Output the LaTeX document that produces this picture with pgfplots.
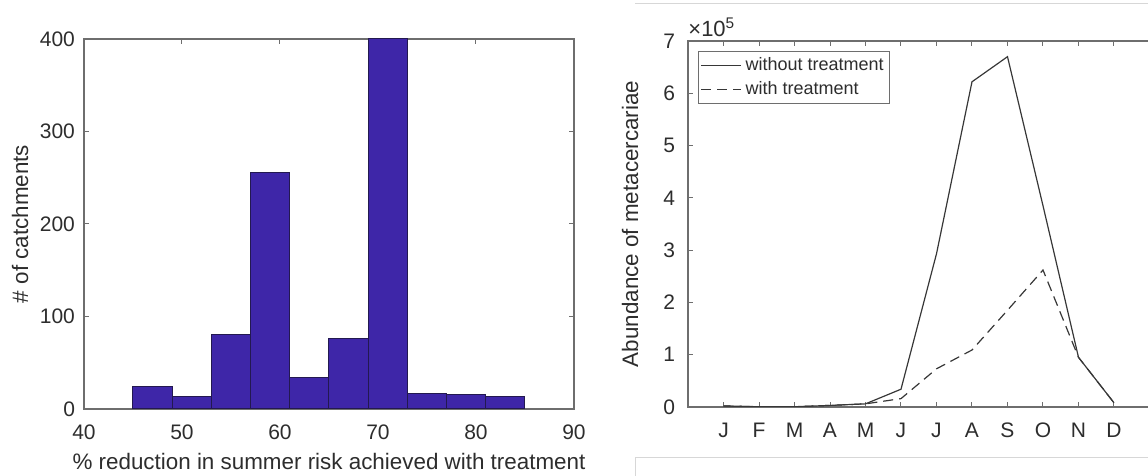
\documentclass[border=0pt]{standalone}
\usepackage{fontspec}
\setmainfont{Liberation Sans}
\usepackage{pgfplots}
\pgfplotsset{compat=1.18}

\definecolor{histfill}{RGB}{62,38,168}
\definecolor{histedge}{RGB}{35,25,80}
\definecolor{axgray}{RGB}{110,110,110}
\definecolor{txtgray}{RGB}{45,45,45}
\definecolor{linegray}{RGB}{55,55,55}
\definecolor{framegray}{RGB}{215,215,215}

\pgfplotsset{
  matlabstyle/.style={
    scale only axis,
    axis line style={axgray, line width=0.6pt},
    tick style={axgray, line width=0.5pt},
    major tick length=2.5pt,
    tick align=inside,
    tick label style={font=\fontsize{10.5}{12}\selectfont, text=txtgray},
    label style={font=\fontsize{11.2}{13}\selectfont, text=txtgray},
    /pgf/number format/assume math mode=true,
    xticklabel style={yshift=-4.5pt},
  }
}

\begin{document}
\begin{tikzpicture}
\useasboundingbox (0,0) rectangle (574pt,238pt);
% screenshot frame lines around the right panel
\draw[framegray, line width=0.5pt] (317.5pt,236pt) -- (574pt,236pt);
\draw[framegray, line width=0.5pt] (317.5pt,0pt) -- (317.5pt,9pt) -- (574pt,9pt);

% left: histogram
\begin{axis}[matlabstyle,
  at={(42pt,33.5pt)}, anchor=south west,
  width=245pt, height=185pt,
  xmin=40, xmax=90, ymin=0, ymax=400,
  xtick={40,50,...,90}, ytick={0,100,...,400},
  xlabel={\% reduction in summer risk achieved with treatment},
  ylabel={\# of catchments},
  xlabel style={at={(axis description cs:0.5,-0.1432)}, anchor=center},
  ylabel style={at={(axis description cs:-0.1306,0.5)}, anchor=center},
  yticklabel style={xshift=-1pt},
]
\addplot[ybar interval, fill=histfill, draw=histedge, line width=0.5pt] coordinates {
(45,24) (49,14) (53,81) (57,256) (61,34) (65,76) (69,400) (73,17) (77,15.5) (81,14) (85,14)
};
\end{axis}

% right: monthly abundance (its right edge lies past the picture, as in the screenshot)
\begin{axis}[matlabstyle, name=abund,
  at={(344pt,34.5pt)}, anchor=south west,
  width=236pt, height=183pt,
  xmin=0, xmax=13.296, ymin=0, ymax=7,
  xtick={1,...,12}, xticklabels={J,F,M,A,M,J,J,A,S,O,N,D},
  ytick={0,...,7},
  ylabel={Abundance of metacercariae},
  ylabel style={at={(axis description cs:-0.1229,0.5)}, anchor=center},
  yticklabel style={xshift=-3pt},
  legend style={at={(axis description cs:0,1)}, anchor=north west,
    xshift=5pt, yshift=-5pt, draw=axgray, line width=0.5pt,
    font=\fontsize{9}{10}\selectfont, text=txtgray, inner sep=1pt},
  legend cell align=left,
  legend image code/.code={\draw[#1] (0pt,0pt) -- (20pt,0pt);},
]
\addplot[linegray, line width=0.6pt] coordinates {
(1,0.02) (2,0.005) (3,0.005) (4,0.03) (5,0.06) (6,0.34) (7,2.93) (8,6.22) (9,6.70) (10,3.85) (11,0.95) (12,0.08)
};
\addlegendentry{without treatment}
\addplot[linegray, line width=0.6pt, dash pattern=on 5pt off 3pt] coordinates {
(1,0.02) (2,0.005) (3,0.005) (4,0.03) (5,0.06) (6,0.16) (7,0.73) (8,1.09) (9,1.85) (10,2.62) (11,0.95) (12,0.08)
};
\addlegendentry{with treatment}
\end{axis}
\node[anchor=base west, inner sep=0pt, text=txtgray, font=\fontsize{11}{12}\selectfont]
  at ([yshift=2.5pt]abund.north west) {×10\textsuperscript{5}};
\end{tikzpicture}
\end{document}
